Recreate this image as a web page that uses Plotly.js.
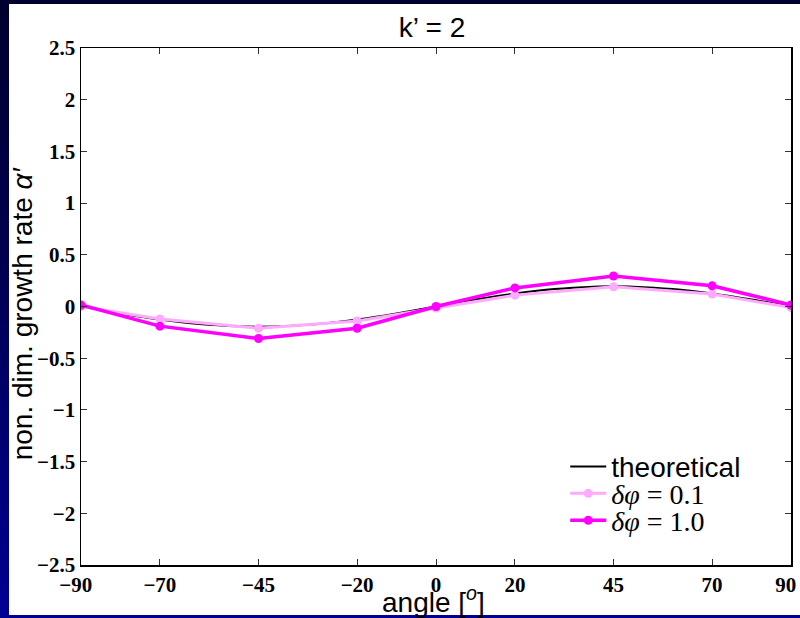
<!DOCTYPE html>
<html>
<head>
<meta charset="utf-8">
<script src="https://cdn.plot.ly/plotly-3.0.1.min.js"></script>
<style>
  html, body { margin:0; padding:0; width:800px; height:618px; overflow:hidden;
    background: linear-gradient(to bottom, #00002e 0%, #00004e 40%, #000094 100%); }
  #sheet { position:absolute; left:9px; top:4px; width:791px; height:611px; background:#ffffff; }
  #chart { position:absolute; left:0; top:0; width:830px; height:618px; }
</style>
</head>
<body>
<div id="sheet"></div>
<div id="chart"></div>
<script>
// ---- data ----
const angles = [-90, -70, -45, -20, 0, 20, 45, 70, 90];
const dphi01 = [0.00, -0.12, -0.21, -0.14, -0.015, 0.11, 0.19, 0.12, -0.01];
const dphi10 = [0.015, -0.19, -0.31, -0.21, 0.00, 0.18, 0.295, 0.20, 0.015];

const theoAngles = [-90, -80, -70, -60, -50, -45, -40, -30, -20, -10, 0, 10, 20, 30, 40, 45, 50, 60, 70, 80, 90];
const theoValues = [0.00, -0.067, -0.125, -0.169, -0.192, -0.195, -0.192, -0.169, -0.125, -0.067, 0.00, 0.067, 0.125, 0.169, 0.192, 0.195, 0.192, 0.169, 0.125, 0.067, 0.00];

const pad = '<span style="color:rgba(0,0,0,0)">0</span>';
const xTickVals = [-90, -70, -45, -20, 0, 20, 45, 70, 90];
const xTickText = ['\u221290' + pad, '\u221270', '\u221245', '\u221220', '0', '20', '45', '70', '90' + pad];
const yTickVals = [-2.5, -2, -1.5, -1, -0.5, 0, 0.5, 1, 1.5, 2, 2.5];
const yTickText = ['\u22122.5', '\u22122', '\u22121.5', '\u22121', '\u22120.5', '0', '0.5', '1', '1.5', '2', '2.5'];

const names = ['theoretical', '<i>\u03b4\u03c6</i> = 0.1', '<i>\u03b4\u03c6</i> = 1.0'];

const traces = [
  { x: theoAngles, y: theoValues, type: 'scatter', mode: 'lines', name: names[0],
    line: { color: '#000000', width: 2, shape: 'spline', smoothing: 0.6 }, legend: 'legend' },
  { x: angles, y: dphi01, type: 'scatter', mode: 'lines+markers', name: names[1],
    line: { color: '#ffaaff', width: 3 }, marker: { color: '#ffaaff', size: 9 }, legend: 'legend2' },
  { x: angles, y: dphi10, type: 'scatter', mode: 'lines+markers', name: names[2],
    line: { color: '#ff00ff', width: 3.5 }, marker: { color: '#ff00ff', size: 9 }, legend: 'legend3' }
];

const tickFont = { family: 'Liberation Serif, Times New Roman, serif', size: 21, color: '#000000', weight: 'bold' };
const sansFont = { family: 'Liberation Sans, Arial, Helvetica, sans-serif', size: 28, color: '#000000' };
const serifLegendFont = { family: 'Liberation Serif, DejaVu Serif, serif', size: 28, color: '#000000' };

function legendAt(yPaper, font) {
  return { x: 0.682, y: yPaper, xref: 'paper', yref: 'paper', xanchor: 'left', yanchor: 'middle',
    bgcolor: 'rgba(0,0,0,0)', borderwidth: 0, font: font, itemwidth: 36 };
}

const layout = {
  width: 830, height: 618,
  paper_bgcolor: 'rgba(0,0,0,0)', plot_bgcolor: '#ffffff',
  margin: { l: 81, r: 39, t: 48, b: 53 },
  title: { text: 'k\u2019 = 2', font: sansFont, x: 432 / 830, xref: 'container', xanchor: 'center',
    y: 0.956, yref: 'container', yanchor: 'middle' },
  xaxis: {
    range: [-90, 90], tickmode: 'array', tickvals: xTickVals, ticktext: xTickText,
    ticks: 'inside', ticklen: 6, tickwidth: 1, tickcolor: '#333333',
    showline: true, linecolor: '#000000', linewidth: 1.5, mirror: 'ticks',
    showgrid: false, zeroline: false, tickfont: tickFont, ticklabeloverflow: 'allow'
  },
  yaxis: {
    range: [-2.5, 2.5], tickmode: 'array', tickvals: yTickVals, ticktext: yTickText,
    ticks: 'inside', ticklen: 6, tickwidth: 1, tickcolor: '#333333',
    showline: true, linecolor: '#000000', linewidth: 1.5, mirror: 'ticks',
    showgrid: false, zeroline: false, tickfont: tickFont
  },
  annotations: [
    { text: 'angle [<sup><i>o</i></sup>]', xref: 'paper', yref: 'paper', x: 0.497, y: -0.068,
      xanchor: 'center', yanchor: 'middle', showarrow: false, font: sansFont },
    { text: 'non. dim. growth rate <i>\u03b1\u2032</i>', xref: 'paper', yref: 'paper', x: -0.083, y: 0.487,
      xanchor: 'center', yanchor: 'middle', textangle: -90, showarrow: false, font: sansFont }
  ],
  showlegend: true,
  legend: legendAt(0.190, sansFont),
  legend2: legendAt(0.138, serifLegendFont),
  legend3: legendAt(0.086, serifLegendFont)
};

Plotly.newPlot('chart', traces, layout, { displayModeBar: false, staticPlot: true });
</script>
</body>
</html>
